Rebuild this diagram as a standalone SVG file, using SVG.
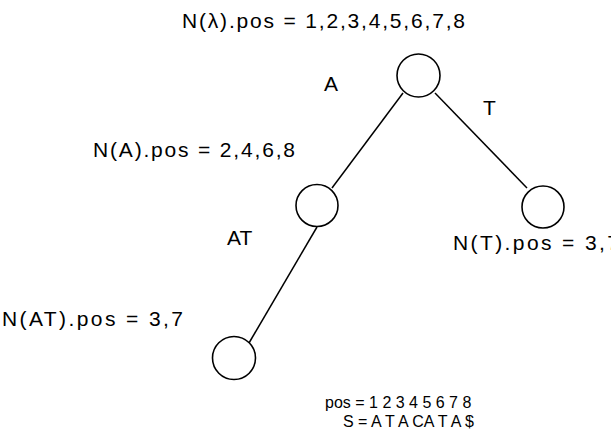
<svg xmlns="http://www.w3.org/2000/svg" width="611" height="434" viewBox="0 0 611 434">
<style>
.t{font-family:"Liberation Sans",Arial,sans-serif;font-size:21px;fill:#000}
.s{font-family:"Liberation Sans",Arial,sans-serif;font-size:16px;fill:#000}
.n{fill:#fff;stroke:#000;stroke-width:1.6}
.e{stroke:#000;stroke-width:1.5;fill:none}
</style>
<rect width="611" height="434" fill="#fff"/>
<g id="connectors">
<line class="e" x1="403" y1="93" x2="332" y2="188"/>
<line class="e" x1="435" y1="93" x2="527" y2="188"/>
<line class="e" x1="317" y1="227" x2="249" y2="343"/>
</g>
<g id="node-root">
<circle class="n" cx="418.5" cy="75.5" r="21.5"/>
<text class="t" x="182" y="28" textLength="283" lengthAdjust="spacing">N(λ).pos = 1,2,3,4,5,6,7,8</text>
</g>
<g id="node-A">
<circle class="n" cx="317" cy="205.5" r="21"/>
<text class="t" x="93" y="157" textLength="202" lengthAdjust="spacing">N(A).pos = 2,4,6,8</text>
</g>
<g id="node-T">
<circle class="n" cx="543" cy="207" r="21"/>
<text class="t" x="453" y="250" textLength="166" lengthAdjust="spacing">N(T).pos = 3,7</text>
</g>
<g id="node-AT">
<circle class="n" cx="234" cy="358" r="21.5"/>
<text class="t" x="2" y="326" textLength="181" lengthAdjust="spacing">N(AT).pos = 3,7</text>
</g>
<g id="edge-labels">
<text class="t" x="324" y="91">A</text>
<text class="t" x="483" y="115">T</text>
<text class="t" x="227" y="245">AT</text>
</g>
<g id="legend">
<text class="s" x="325" y="408" xml:space="preserve">pos = 1 2 3 4 5 6 7 8</text>
<text class="s" x="343" y="427" xml:space="preserve">S = A T A CA T A $</text>
</g>
</svg>
